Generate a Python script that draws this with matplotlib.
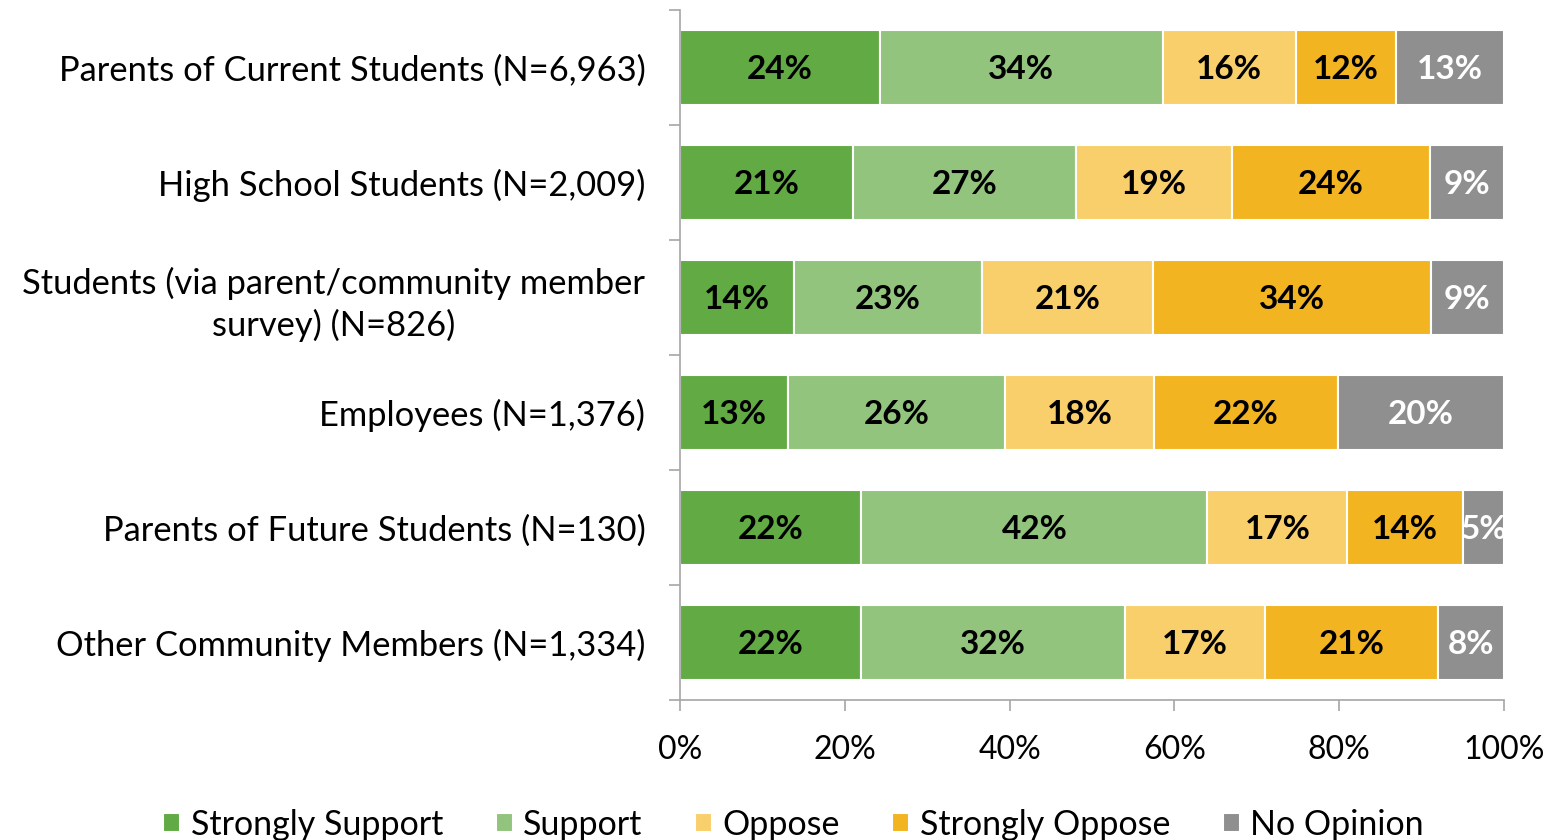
import matplotlib.pyplot as plt
import numpy as np

plt.rcParams['font.family'] = ['Lato', 'DejaVu Sans']

# Groups (top to bottom) and displayed percentages
groups = [
    'Parents of Current Students (N=6,963)',
    'High School Students (N=2,009)',
    'Students (via parent/community member\nsurvey) (N=826)',
    'Employees (N=1,376)',
    'Parents of Future Students (N=130)',
    'Other Community Members (N=1,334)',
]
series = ['Strongly Support', 'Support', 'Oppose', 'Strongly Oppose', 'No Opinion']
strongly_support = [24, 21, 14, 13, 22, 22]
support = [34, 27, 23, 26, 42, 32]
oppose = [16, 19, 21, 18, 17, 17]
strongly_oppose = [12, 24, 34, 22, 14, 21]
no_opinion = [13, 9, 9, 20, 5, 8]

colors = ['#62AB44', '#93C47D', '#F8CF6A', '#F2B521', '#8F8F8F']
text_colors = ['black', 'black', 'black', 'black', 'white']

vals = np.array([strongly_support, support, oppose, strongly_oppose, no_opinion], dtype=float)
# bars are 100% stacked, so rescale each row to sum to 100
shares = vals / vals.sum(axis=0) * 100

fig = plt.figure(figsize=(15.59, 8.4), dpi=100)
ax = fig.add_axes([0.4362, 0.1667, 0.5285, 0.8214])

y = np.arange(len(groups))
left = np.zeros(len(groups))
for i, name in enumerate(series):
    ax.barh(y, shares[i], left=left, height=0.65, color=colors[i],
            edgecolor='white', linewidth=1.5, label=name)
    for j in range(len(groups)):
        ax.text(left[j] + shares[i][j] / 2, y[j], '%d%%' % vals[i][j],
                ha='center', va='center_baseline', fontsize=24, fontweight='bold',
                color=text_colors[i], clip_on=True)
    left += shares[i]

ax.set_xlim(0, 100)
ax.set_ylim(len(groups) - 0.5, -0.5)
ax.set_xticks(np.arange(0, 101, 20))
ax.set_xticklabels(['%d%%' % v for v in range(0, 101, 20)], fontsize=23)
ax.set_yticks(y)
ax.set_yticklabels(groups, fontsize=24.8, linespacing=1.3)
ax.tick_params(axis='y', length=0, pad=25)
ax.set_yticks(np.arange(-0.5, len(groups)), minor=True)
ax.tick_params(axis='y', which='minor', length=8, color='#A6A6A6', width=1.2)
ax.tick_params(axis='x', length=8, color='#A6A6A6', width=1.2, pad=17)
for lab in ax.get_yticklabels():
    lab.set_multialignment('center')

for s in ['top', 'right']:
    ax.spines[s].set_visible(False)
for s in ['left', 'bottom']:
    ax.spines[s].set_color('#A6A6A6')
    ax.spines[s].set_linewidth(1.2)

fig.legend(loc='center', bbox_to_anchor=(0.509, 0.018), ncol=5,
           frameon=False, fontsize=24.5, handlelength=0.5, handleheight=0.5,
           handletextpad=0.3, columnspacing=1.55, borderpad=0)

fig.savefig('out.png', dpi=100)
